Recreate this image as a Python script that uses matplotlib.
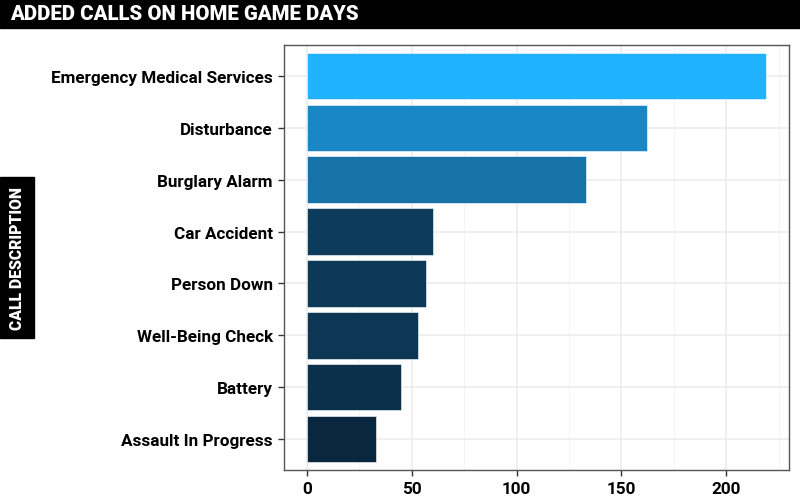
import matplotlib
matplotlib.use("Agg")
import matplotlib.pyplot as plt
from matplotlib.colors import LinearSegmentedColormap, Normalize
from matplotlib.patches import Rectangle
from matplotlib.ticker import MultipleLocator

# donnees
categories = ["Emergency Medical Services", "Disturbance", "Burglary Alarm", "Car Accident",
              "Person Down", "Well-Being Check", "Battery", "Assault In Progress"]
calls = [219, 162, 133, 60, 57, 53, 45, 33]

title = "ADDED CALLS ON HOME GAME DAYS"
ylab = "CALL DESCRIPTION"

plt.rcParams['font.family'] = ['Roboto', 'DejaVu Sans']

W, H = 800, 502
fig = plt.figure(figsize=(W / 100, H / 100), dpi=100)

# bandeau du titre
fig.patches.append(Rectangle((0, 1 - 28.5 / H), 1, 28.5 / H, transform=fig.transFigure,
                             color="black", zorder=0))
fig.text(10 / W, 1 - 15 / H, title, color="white", fontsize=14.7, fontweight="black",
         ha="left", va="center")

# boite "call description"
fig.patches.append(Rectangle((0, (H - 339) / H), 34 / W, 161 / H, transform=fig.transFigure,
                             color="black", zorder=0))
fig.text(17.5 / W, 1 - 258.5 / H, ylab, color="white", fontsize=11.3, fontweight="black",
         rotation=90, ha="center", va="center")

ax = fig.add_axes([284 / W, 31 / H, 505 / W, 425 / H])

cmap = LinearSegmentedColormap.from_list("bleus", ["#0a2740", "#20b2ff"])
norm = Normalize(min(calls), max(calls))
ypos = list(range(len(categories), 0, -1))
ax.barh(ypos, calls, height=0.9, color=[cmap(norm(v)) for v in calls],
        edgecolor="white", linewidth=0.4, zorder=3)

ax.set_xlim(-max(calls) * 0.05, max(calls) * 1.05)
ax.set_ylim(0.4, len(categories) + 0.6)
ax.set_yticks(ypos)
ax.set_yticklabels(categories)
ax.xaxis.set_major_locator(MultipleLocator(50))
ax.xaxis.set_minor_locator(MultipleLocator(25))
ax.grid(which="major", color="#ebebeb", linewidth=1.1, zorder=0)
ax.grid(which="minor", axis="x", color="#f2f2f2", linewidth=0.6, zorder=0)
ax.set_axisbelow(True)
ax.tick_params(which="major", length=4, width=1, color="#333333", labelsize=12.3,
               labelcolor="black", pad=4)
ax.tick_params(which="minor", length=0)
for lab in ax.get_xticklabels() + ax.get_yticklabels():
    lab.set_fontweight("bold")
for s in ax.spines.values():
    s.set_color("#555555")
    s.set_linewidth(1)

fig.savefig("out.png", dpi=100)
